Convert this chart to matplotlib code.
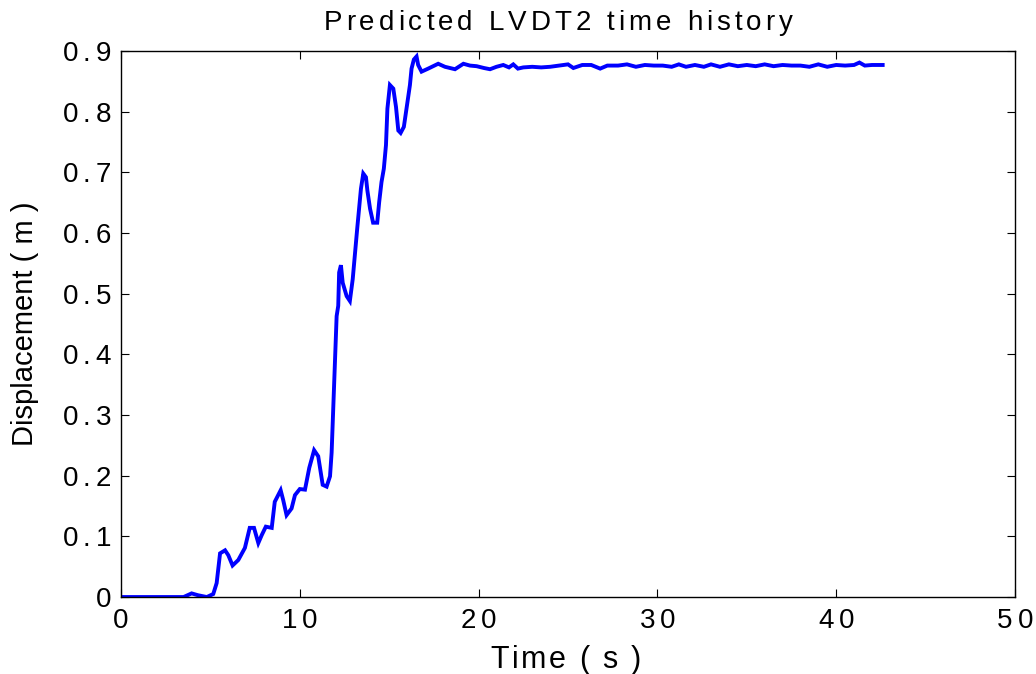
import matplotlib
matplotlib.use("Agg")
import matplotlib.pyplot as plt
from matplotlib.font_manager import FontProperties, findfont, get_font
from matplotlib.ft2font import LoadFlags

# LVDT2 predicted displacement history
time_s = [0.0, 3.5, 3.95, 4.3, 4.8, 5.16, 5.35, 5.54, 5.82, 6.0, 6.24, 6.56, 6.93,
          7.2, 7.44, 7.68, 7.87, 8.1, 8.43, 8.6, 8.93, 9.07, 9.26, 9.54, 9.73,
          10.0, 10.29, 10.53, 10.8, 11.03, 11.28, 11.5, 11.69, 11.78, 11.87,
          11.97, 12.06, 12.15, 12.2, 12.3, 12.4, 12.62, 12.8, 12.96, 13.09,
          13.21, 13.33, 13.42, 13.55, 13.7, 13.78, 13.93, 14.1, 14.33, 14.44,
          14.57, 14.7, 14.82, 14.9, 15.04, 15.23, 15.38, 15.51, 15.64, 15.82,
          16.0, 16.16, 16.25, 16.38, 16.53, 16.62, 16.81, 17.18, 17.74, 18.12,
          18.68, 19.15, 19.52, 19.89, 20.3, 20.64, 21.0, 21.38, 21.7, 21.94,
          22.2, 22.5, 23.0, 23.5, 24.0, 24.5, 25.0, 25.3, 25.8, 26.3, 26.8,
          27.2, 27.8, 28.3, 28.8, 29.3, 29.8, 30.3, 30.8, 31.2, 31.6, 32.1,
          32.6, 33.0, 33.5, 34.0, 34.5, 35.0, 35.5, 36.0, 36.5, 37.0, 37.5,
          38.0, 38.5, 39.0, 39.5, 40.0, 40.5, 41.0, 41.3, 41.6, 42.0, 42.6]
displacement_m = [0.0, 0.0, 0.006, 0.003, 0.0, 0.005, 0.023, 0.072, 0.077, 0.069,
                  0.052, 0.061, 0.081, 0.114, 0.114, 0.089, 0.102, 0.116, 0.114,
                  0.157, 0.176, 0.160, 0.135, 0.146, 0.168, 0.178, 0.177, 0.213,
                  0.242, 0.232, 0.185, 0.182, 0.199, 0.238, 0.309, 0.386, 0.463,
                  0.480, 0.535, 0.547, 0.518, 0.496, 0.488, 0.524, 0.568, 0.607,
                  0.645, 0.673, 0.698, 0.692, 0.670, 0.640, 0.617, 0.617, 0.651,
                  0.684, 0.706, 0.745, 0.805, 0.844, 0.838, 0.808, 0.769, 0.765,
                  0.775, 0.811, 0.844, 0.871, 0.886, 0.891, 0.877, 0.866, 0.871,
                  0.879, 0.874, 0.870, 0.879, 0.876, 0.875, 0.872, 0.870, 0.874,
                  0.877, 0.873, 0.878, 0.871, 0.873, 0.874, 0.873, 0.874, 0.876,
                  0.878, 0.872, 0.877, 0.877, 0.871, 0.876, 0.876, 0.878, 0.874,
                  0.877, 0.876, 0.876, 0.874, 0.878, 0.874, 0.877, 0.874, 0.878,
                  0.874, 0.878, 0.875, 0.877, 0.875, 0.878, 0.875, 0.877, 0.876,
                  0.876, 0.874, 0.878, 0.874, 0.877, 0.876, 0.877, 0.881, 0.876,
                  0.877, 0.877]

x_ticks = [0, 10, 20, 30, 40, 50]
y_ticks = [0, 0.1, 0.2, 0.3, 0.4, 0.5, 0.6, 0.7, 0.8, 0.9]

TITLE = "Predicted LVDT2 time history"
XLABEL = "Time ( s )"
YLABEL = "Displacement ( m )"

FAMILY = ["Liberation Sans", "DejaVu Sans"]
plt.rcParams["font.family"] = FAMILY

W, H, DPI = 1036, 674, 100
fig = plt.figure(figsize=(W / DPI, H / DPI), dpi=DPI)
ax = fig.add_axes([0.1168, 0.1142, 0.9797 - 0.1168, 0.9243 - 0.1142])

ax.plot(time_s, displacement_m, color="#0000ff", linewidth=2.8,
        solid_joinstyle="miter")

ax.set_xlim(0, 50)
ax.set_ylim(0, 0.9)
ax.set_xticks(x_ticks)
ax.set_yticks(y_ticks)
ax.set_xticklabels([])
ax.set_yticklabels([])
ax.tick_params(direction="in", length=5.5, width=0.8,
               top=True, right=True)
for sp in ax.spines.values():
    sp.set_linewidth(1.0)


def advances(s, size):
    """Pixel advance of each glyph of s at the given point size."""
    font = get_font(findfont(FontProperties(family=FAMILY[0])))
    font.set_size(size, DPI)
    out = []
    for ch in s:
        g = font.load_char(ord(ch), flags=LoadFlags.NO_HINTING)
        out.append(g.linearHoriAdvance / 65536)
    return out


def tracked_text(s, x, y, size, track, align="center"):
    """Draw s with extra letter spacing; x, y in pixels, y is the baseline."""
    adv = advances(s, size)
    total = sum(adv) + track * (len(s) - 1)
    if align == "center":
        x0 = x - total / 2
    elif align == "right":
        x0 = x - total
    else:
        x0 = x
    for ch, a in zip(s, adv):
        if ch != " ":
            fig.text(x0 / W, y / H, ch, fontsize=size, ha="left",
                     va="baseline")
        x0 += a + track


TICK_SIZE, TICK_TRACK = 20, 5
to_px = ax.transData.transform
ax_left, ax_bottom = to_px((0, 0))
ax_right, ax_top = to_px((50, 0.9))

for v in x_ticks:
    px, _ = to_px((v, 0))
    tracked_text(f"{v:g}", px, ax_bottom - 31, TICK_SIZE, TICK_TRACK)

for v in y_ticks:
    _, py = to_px((0, v))
    tracked_text(f"{v:g}", ax_left - 10, py - 10, TICK_SIZE, TICK_TRACK,
                 align="right")

mid_x = (ax_left + ax_right) / 2
tracked_text(TITLE, mid_x - 10, ax_top + 21, 20, 4)
tracked_text(XLABEL, mid_x - 2, ax_bottom - 71, 22, 2.4)
fig.text(33 / W, ((ax_bottom + ax_top) / 2) / H, YLABEL, fontsize=21,
         rotation=90, rotation_mode="anchor", ha="center", va="baseline")

fig.savefig("out.png", dpi=DPI)
